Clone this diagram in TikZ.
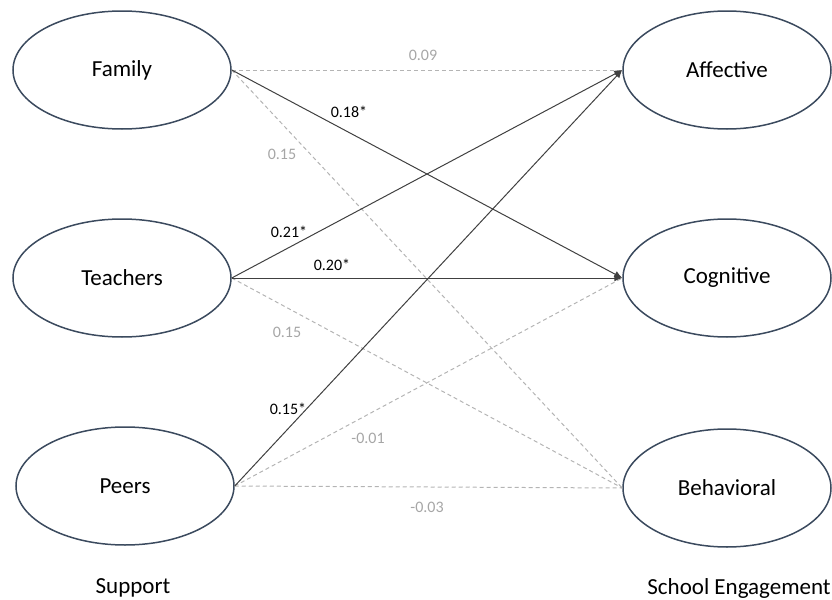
\documentclass[tikz,border=0pt]{standalone}
\usepackage{fontspec}
\setmainfont{Carlito}
\usetikzlibrary{shapes.geometric,arrows.meta}
\definecolor{ellstroke}{HTML}{3B4A5E}
\definecolor{solidline}{HTML}{404040}
\definecolor{dashline}{HTML}{B4B4B4}
\definecolor{greytext}{HTML}{A6A6A6}
\tikzset{
  latent/.style={ellipse, draw=ellstroke, line width=0.75pt, inner sep=0pt, font=\fontsize{11.5}{13}\selectfont},
  leftell/.style={latent, minimum width=109pt, minimum height=59pt},
  rightell/.style={latent, minimum width=104pt, minimum height=59pt},
  sig/.style={draw=solidline, line width=0.5pt, -{Latex[length=4pt,width=3.5pt]}},
  nonsig/.style={draw=dashline, line width=0.5pt, dash pattern=on 2pt off 1.5pt},
  siglab/.style={font=\fontsize{8}{9}\selectfont, text=black, inner sep=0pt},
  nslab/.style={font=\fontsize{8}{9}\selectfont, text=greytext, inner sep=0pt},
  caption/.style={font=\fontsize{11.5}{13}\selectfont, inner sep=0pt}
}
\begin{document}
\begin{tikzpicture}[x=0.5pt,y=-0.5pt]
\useasboundingbox (0,0) rectangle (832,600);
\node[leftell] (family) at (122,70) {Family};
\node[leftell] (teachers) at (122,278) {Teachers};
\node[leftell] (peers) at (125,486) {Peers};
\node[rightell] (affective) at (727,70) {Affective};
\node[rightell] (cognitive) at (727,278) {Cognitive};
\node[rightell] (behavioral) at (727,488) {Behavioral};

\draw[nonsig] (family.east) -- (affective.west);
\draw[nonsig] (family.east) -- (behavioral.west);
\draw[nonsig] (teachers.east) -- (behavioral.west);
\draw[nonsig] (peers.east) -- (cognitive.west);
\draw[nonsig] (peers.east) -- (behavioral.west);
\draw[sig] (family.east) -- (cognitive.west);
\draw[sig] (teachers.east) -- (affective.west);
\draw[sig] (teachers.east) -- (cognitive.west);
\draw[sig] (peers.east) -- (affective.west);

\node[nslab] (l1) at (423,55) {0.09};
\node[siglab] (l2) at (349,112) {0.18*};
\node[nslab] (l3) at (282,154) {0.15};
\node[siglab] (l4) at (289,232) {0.21*};
\node[siglab] (l5) at (332,265) {0.20*};
\node[nslab] (l6) at (287,332) {0.15};
\node[siglab] (l7) at (288,409) {0.15*};
\node[nslab] (l8) at (368,438) {-0.01};
\node[nslab] (l9) at (427,507) {-0.03};

\node[caption] (support) at (133,588) {Support};
\node[caption, anchor=west] (engagement) at (647,588) {School Engagement};
\end{tikzpicture}
\end{document}
